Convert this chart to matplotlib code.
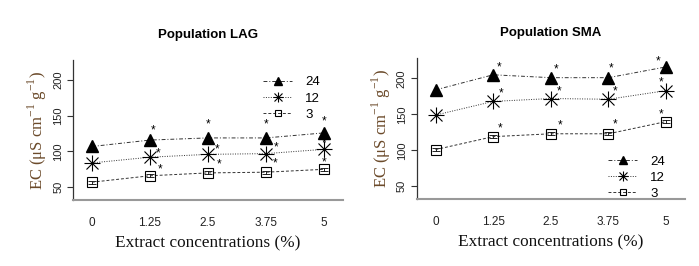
import matplotlib
matplotlib.use('Agg')
import matplotlib.pyplot as plt
import numpy as np

conc = [0, 1.25, 2.5, 3.75, 5]
conc_labels = ['0', '1.25', '2.5', '3.75', '5']

lag_24 = [107, 116, 119, 119, 126]
lag_12 = [84, 92, 96, 97, 103]
lag_3 = [57, 66, 70, 71, 75]
lag_3_se = [2, 2, 2, 2, 2]

sma_24 = [184, 205, 201, 201, 216]
sma_12 = [149, 168, 172, 171, 183]
sma_3 = [101, 119, 123, 123, 140]
sma_3_se = [2, 2, 2, 2, 2]

# significance stars: (series, point index, dx px, dy px)
lag_stars = [('24', 1, 3, 13), ('24', 2, 0, 16), ('24', 3, 0, 16), ('24', 4, 0, 14),
             ('12', 1, 8, 7), ('12', 1, 10, -9), ('12', 2, 9, 8), ('12', 2, 11, -7),
             ('12', 3, 10, 9), ('12', 3, 9, -7), ('12', 4, 0, 9), ('12', 4, 0, -10)]
sma_stars = [('24', 1, 6, 10), ('24', 2, 5, 11), ('24', 3, 3, 12), ('24', 4, -8, 8),
             ('12', 1, 8, 11), ('12', 2, 8, 10), ('12', 3, 7, 11), ('12', 4, -5, 11),
             ('3', 1, 7, 11), ('3', 2, 9, 11), ('3', 3, 7, 12), ('3', 4, -5, 10)]

plt.rcParams['font.family'] = ['Liberation Sans', 'DejaVu Sans']

fig = plt.figure(figsize=(6.99, 2.66), dpi=100)
ax1 = fig.add_axes([0.1044, 0.248, 0.386, 0.526])
ax2 = fig.add_axes([0.596, 0.251, 0.384, 0.530])

lc = '#333333'


def draw(ax, s24, s12, s3, se3, stars, title, legloc, legbox):
    h24, = ax.plot(conc, s24, linestyle=(0, (4, 2, 1, 2)), color=lc, lw=0.7,
                   marker='^', ms=8.5, mfc='black', mec='black')
    h12a, = ax.plot(conc, s12, linestyle=(0, (1, 1.5)), color=lc, lw=0.7,
                    marker='+', ms=11, mec='black', mew=0.8)
    h12b, = ax.plot(conc, s12, linestyle='none', marker='x', ms=8, mec='black', mew=0.8)
    ax.errorbar(conc, s3, yerr=se3, fmt='none', ecolor='black', elinewidth=0.6,
                capsize=3, capthick=0.6)
    h3, = ax.plot(conc, s3, linestyle=(0, (3, 2)), color=lc, lw=0.7,
                  marker='s', ms=7, mfc='none', mec='black', mew=0.8)

    series = {'24': s24, '12': s12, '3': s3}
    for name, i, dx, dy in stars:
        ax.annotate('*', (conc[i], series[name][i]), xytext=(dx, dy - 6),
                    textcoords='offset pixels', ha='center', va='baseline',
                    fontsize=8.5, color='black')

    ax.set_xlim(-0.41, 5.41)
    ax.set_ylim(32, 228)
    ax.set_xticks(conc)
    ax.set_xticklabels(conc_labels)
    ax.set_yticks([50, 100, 150, 200])
    ax.tick_params(axis='x', length=0, pad=12, labelsize=8.5, labelcolor='#222222')
    ax.tick_params(axis='y', length=4, width=0.8, pad=3, labelsize=8,
                   labelcolor='#222222', color='#333333')
    for lab in ax.get_yticklabels():
        lab.set_rotation(90)
        lab.set_va('center')
    ax.spines['top'].set_visible(False)
    ax.spines['right'].set_visible(False)
    ax.spines['left'].set_color('#333333')
    ax.spines['left'].set_linewidth(0.9)
    ax.spines['bottom'].set_color('#999999')
    ax.spines['bottom'].set_linewidth(1.5)

    ax.set_title(title, fontsize=9.5, fontweight='bold', pad=16)
    ax.set_xlabel('Extract concentrations (%)', family='Liberation Serif',
                  fontsize=12.4, labelpad=5, color='#111111')
    ax.set_ylabel(r'EC ($\mathregular{\mu}$S cm$^{\mathregular{-1}}$ g$^{\mathregular{-1}}$)',
                  family='Liberation Serif', fontsize=12, labelpad=3,
                  color='#6b4a2a')

    ax.legend([h24, (h12a, h12b), h3], ['24', '12', '3'], loc=legloc,
              bbox_to_anchor=legbox, frameon=False, fontsize=9.5,
              handlelength=2.2, handletextpad=1.0, labelspacing=0.3,
              markerscale=0.7)


draw(ax1, lag_24, lag_12, lag_3, lag_3_se, lag_stars, 'Population LAG',
     'upper right', (0.96, 0.97))
draw(ax2, sma_24, sma_12, sma_3, sma_3_se, sma_stars, 'Population SMA',
     'lower right', (0.97, -0.09))

fig.savefig('out.png', dpi=100)
